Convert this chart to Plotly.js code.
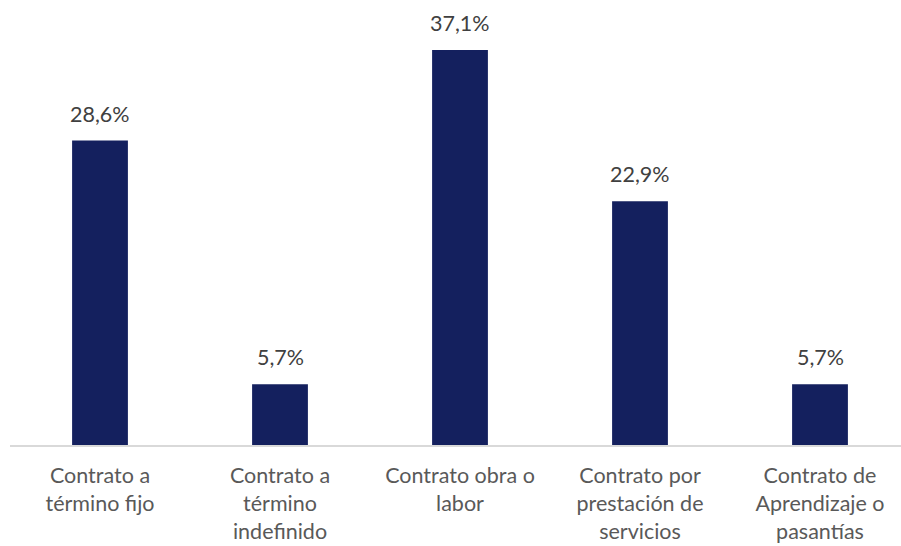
<!DOCTYPE html>
<html><head><meta charset="utf-8">
<script src="https://cdn.plot.ly/plotly-3.0.1.min.js"></script>
<style>body{margin:0;background:#fff}#c{width:901px;height:546px}</style>
</head><body><div id="c"></div>
<script>
const categories = ["Contrato a<br>término fijo", "Contrato a<br>término<br>indefinido", "Contrato obra o<br>labor", "Contrato por<br>prestación de<br>servicios", "Contrato de<br>Aprendizaje o<br>pasantías"];
const values = [28.6, 5.7, 37.1, 22.9, 5.7];
const labels = ["28,6%", "5,7%", "37,1%", "22,9%", "5,7%"];
const xs = [0, 1, 2, 3, 4];

Plotly.newPlot("c", [{
  type: "bar",
  x: xs,
  y: values,
  marker: {color: "#14205e"},
  hoverinfo: "none"
}], {
  width: 901, height: 546,
  margin: {l: 10, r: 0, t: 0, b: 101},
  paper_bgcolor: "#fff", plot_bgcolor: "#fff",
  bargap: 0.69,
  showlegend: false,
  font: {family: "Lato, sans-serif", color: "#595959"},
  annotations: xs.map((x, i) => ({
    x: x, y: values[i], text: labels[i], showarrow: false,
    yanchor: "bottom", yshift: 12,
    font: {family: "Lato, sans-serif", size: 21.5, color: "#404040"}
  })),
  xaxis: {
    range: [-0.5, 4.45],
    tickvals: xs,
    ticktext: categories,
    showline: true, linecolor: "#d9d9d9", linewidth: 2,
    showgrid: false, zeroline: false, ticks: "",
    tickfont: {family: "Lato, sans-serif", size: 21.5, color: "#595959"},
    ticklabelstandoff: 10
  },
  yaxis: {range: [0, 41.8], visible: false, showgrid: false, zeroline: false}
}, {displayModeBar: false, staticPlot: true});
</script></body></html>
